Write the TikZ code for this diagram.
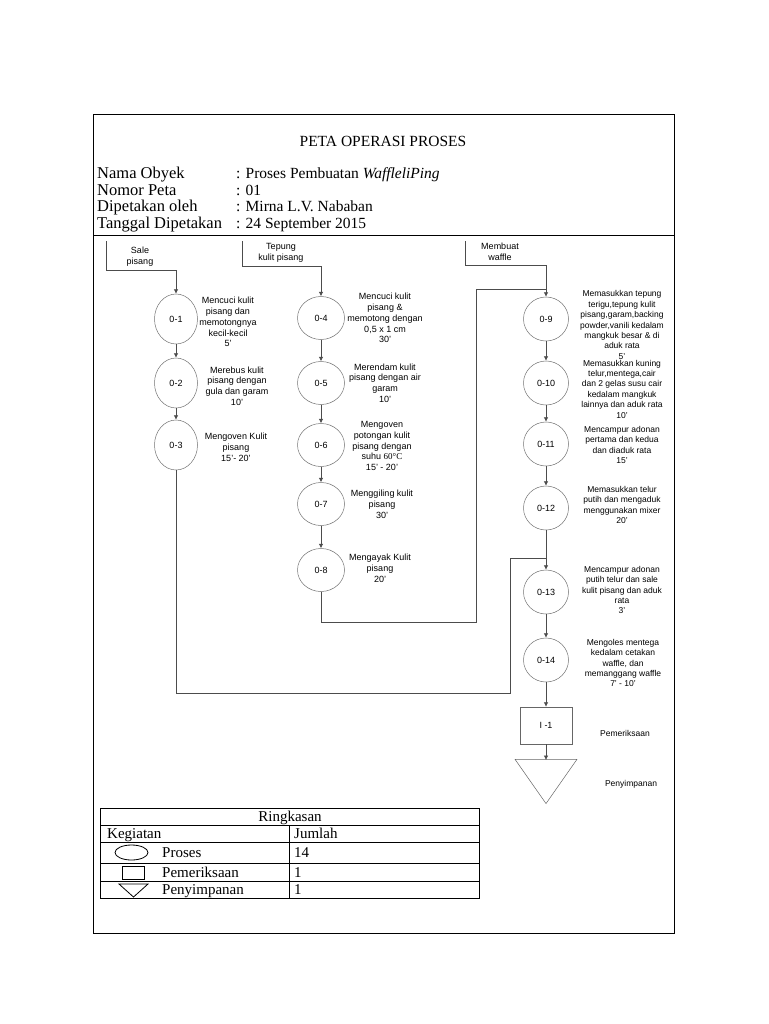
\documentclass[tikz,border=0pt]{standalone}
\usepackage{fontspec}
\setmainfont{Liberation Serif}
\setsansfont{Liberation Sans}
\usetikzlibrary{shapes.geometric,arrows.meta}
\begin{document}
\begin{tikzpicture}[x=1pt,y=-1pt,
  conn/.style={draw=black!70, line width=0.6pt},
  arr/.style={conn, -{Latex[length=4.5pt,width=4.5pt]}},
  procA/.style={ellipse, draw=black!55, line width=0.5pt, inner sep=0pt, minimum width=43pt, minimum height=50pt, font=\sffamily\fontsize{9}{10}\selectfont},
  procB/.style={ellipse, draw=black!55, line width=0.5pt, inner sep=0pt, minimum width=47pt, minimum height=43pt, font=\sffamily\fontsize{9}{10}\selectfont},
  procC/.style={ellipse, draw=black!55, line width=0.5pt, inner sep=0pt, minimum width=45pt, minimum height=44pt, font=\sffamily\fontsize{9}{10}\selectfont},
  desc/.style={align=center, inner sep=0pt, font=\sffamily\fontsize{9}{10.8}\selectfont},
  descC/.style={align=center, inner sep=0pt, font=\sffamily\fontsize{8.5}{10.4}\selectfont},
  hdr/.style={anchor=base west, inner sep=0pt, font=\fontsize{16.5}{18}\selectfont},
  hdv/.style={anchor=base west, inner sep=0pt, font=\fontsize{15.5}{18}\selectfont},
  tbl/.style={inner sep=0pt, font=\fontsize{15}{16}\selectfont},
  tbw/.style={tbl, anchor=base west},
  frame/.style={draw=black, line width=1pt},
]
\useasboundingbox[fill=white] (0,0) rectangle (768,1024);

% outer frame and header line
\draw[frame] (93,115) rectangle (674,933);
\draw[frame] (93,235) -- (674,235);

% header
\node[inner sep=0pt, font=\fontsize{15.5}{17}\selectfont, anchor=base] (title) at (383,146.5) {PETA OPERASI PROSES};
\node[hdr] (l1) at (97,179) {Nama Obyek};
\node[hdr] (l2) at (97,195.5) {Nomor Peta};
\node[hdr] (l3) at (97,212) {Dipetakan oleh};
\node[hdr] (l4) at (97,229) {Tanggal Dipetakan};
\node[hdv] (v1) at (236,179) {: Proses Pembuatan \textit{WaffleliPing}};
\node[hdv] (v2) at (236,195.5) {: 01};
\node[hdv] (v3) at (236,212) {: Mirna L.V. Nababan};
\node[hdv] (v4) at (236,229) {: 24 September 2015};

% inputs
\coordinate (s1) at (106,241);
\coordinate (s2) at (242,241);
\coordinate (s3) at (465,241);
\node[desc] (in1) at (140,257) {Sale\\pisang};
\node[desc] (in2) at (281,253) {Tepung\\kulit pisang};
\node[desc] (in3) at (500,252) {Membuat\\waffle};

% column 1
\node[procA] (o1) at (176,319) {0-1};
\node[procA] (o2) at (176,383) {0-2};
\node[procA] (o3) at (176,445) {0-3};
\node[desc] (d1) at (228,322) {Mencuci kulit\\pisang dan\\memotongnya\\kecil-kecil\\5'};
\node[desc] (d2) at (237,386) {Merebus kulit\\pisang dengan\\gula dan garam\\10'};
\node[desc] (d3) at (236,447) {Mengoven Kulit\\pisang\\15'- 20'};

% column 2
\node[procB] (o4) at (321,318) {0-4};
\node[procB] (o5) at (321,383) {0-5};
\node[procB] (o6) at (321,445) {0-6};
\node[procB] (o7) at (321,504) {0-7};
\node[procB] (o8) at (321,570) {0-8};
\node[desc] (d4) at (385,318) {Mencuci kulit\\pisang \&\\memotong dengan\\0,5 x 1 cm\\30'};
\node[desc] (d5) at (385,383) {Merendam kulit\\pisang dengan air\\garam\\10'};
\node[desc] (d6) at (382,446) {Mengoven\\potongan kulit\\pisang dengan\\suhu {\rmfamily 60°C}\\15' - 20'};
\node[desc] (d7) at (382,504) {Menggiling kulit\\pisang\\30'};
\node[desc] (d8) at (380,568) {Mengayak Kulit\\pisang\\20'};

% column 3
\node[procC] (o9) at (546,319) {0-9};
\node[procC] (o10) at (546,383) {0-10};
\node[procC] (o11) at (546,444) {0-11};
\node[procC] (o12) at (546,508) {0-12};
\node[procC] (o13) at (546,592) {0-13};
\node[procC] (o14) at (546,660) {0-14};
\node[draw=black!60, line width=0.5pt, minimum width=52pt, minimum height=37pt, inner sep=0pt, font=\sffamily\fontsize{9}{10}\selectfont] (i1) at (546,725.5) {I -1};
\node[isosceles triangle, isosceles triangle apex angle=70, shape border rotate=-90, draw=black!60, line width=0.5pt, minimum width=62pt, minimum height=44pt, inner sep=0pt, anchor=apex] (t1) at (546,804) {};

\node[descC] (d9) at (622,325) {Memasukkan tepung\\terigu,tepung kulit\\pisang,garam,backing\\powder,vanili kedalam\\mangkuk besar \& di\\aduk rata\\5'};
\node[descC] (d10) at (622,389) {Memasukkan kuning\\telur,mentega,cair\\dan 2 gelas susu cair\\kedalam mangkuk\\lainnya dan aduk rata\\10'};
\node[descC] (d11) at (622,445) {Mencampur adonan\\pertama dan kedua\\dan diaduk rata\\15'};
\node[descC] (d12) at (622,505) {Memasukkan telur\\putih dan mengaduk\\menggunakan mixer\\20'};
\node[descC] (d13) at (622,590) {Mencampur adonan\\putih telur dan sale\\kulit pisang dan aduk\\rata\\3'};
\node[descC] (d14) at (623,663) {Mengoles mentega\\kedalam cetakan\\waffle, dan\\memanggang waffle\\7' - 10'};
\node[descC] (dp) at (625,733) {Pemeriksaan};
\node[descC] (ds) at (631,784) {Penyimpanan};

% connectors column 1
\draw[arr] (s1) -- (106,270) -- (176,270) -- (o1.north);
\draw[arr] (o1) -- (o2);
\draw[arr] (o2) -- (o3);
\coordinate (j3) at (546,558);
\draw[conn] (o3.south) -- (176,693) -- (510,693) -- (510,558) -- (j3);

% connectors column 2
\draw[arr] (s2) -- (242,266) -- (321,266) -- (o4.north);
\draw[arr] (o4) -- (o5);
\draw[arr] (o5) -- (o6);
\draw[arr] (o6) -- (o7);
\draw[arr] (o7) -- (o8);
\coordinate (j2) at (546,289);
\draw[conn] (o8.south) -- (321,622) -- (476,622) -- (476,289) -- (j2);

% connectors column 3
\draw[arr] (s3) -- (465,265) -- (546,265) -- (o9.north);
\draw[arr] (o9) -- (o10);
\draw[arr] (o10) -- (o11);
\draw[arr] (o11) -- (o12);
\draw[arr] (o12) -- (o13);
\draw[arr] (o13) -- (o14);
\draw[arr] (o14) -- (i1);
\draw[arr] (i1.south) -- (546,760);

% summary table
\draw[frame] (100,808) rectangle (479,898);
\draw[frame] (100,825) -- (479,825);
\draw[frame] (100,842) -- (479,842);
\draw[frame] (100,863) -- (479,863);
\draw[frame] (100,881) -- (479,881);
\draw[frame] (289,825) -- (289,898);
\node[tbl, anchor=base] (rk) at (290,821) {Ringkasan};
\node[tbw] (kg) at (107,838.5) {Kegiatan};
\node[tbw] (jm) at (294,838.5) {Jumlah};
\node[tbw] (pr) at (162,857.5) {Proses};
\node[tbw] (pm) at (162,877) {Pemeriksaan};
\node[tbw] (py) at (162,894.5) {Penyimpanan};
\node[tbw] (n1) at (294,857.5) {14};
\node[tbw] (n2) at (294,877) {1};
\node[tbw] (n3) at (294,894.5) {1};
\draw[line width=0.8pt] (131.5,852.5) ellipse [x radius=16.5, y radius=7.5];
\draw[line width=0.8pt] (122,866) rectangle (144,879);
\draw[line width=0.8pt] (119,884) -- (148,884) -- (133.5,897) -- cycle;
\end{tikzpicture}
\end{document}
